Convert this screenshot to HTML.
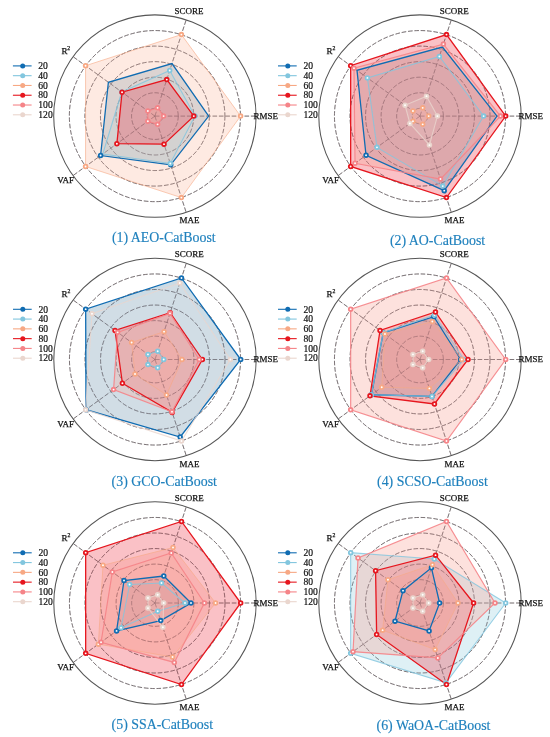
<!DOCTYPE html><html><head><meta charset="utf-8"><style>html,body{margin:0;padding:0;background:#fff;width:550px;height:737px;overflow:hidden;}svg{display:block;will-change:transform;}text{font-family:"Liberation Serif",serif;}</style></head><body>
<svg width="550" height="737" viewBox="0 0 550 737">
<g><circle cx="154.9" cy="116.1" r="7.8" fill="none" stroke="#858585" stroke-width="0.95" stroke-dasharray="4.6,1.8"/><circle cx="154.9" cy="116.1" r="23.35" fill="none" stroke="#858585" stroke-width="0.95" stroke-dasharray="4.6,1.8"/><circle cx="154.9" cy="116.1" r="38.9" fill="none" stroke="#858585" stroke-width="0.95" stroke-dasharray="4.6,1.8"/><circle cx="154.9" cy="116.1" r="54.45" fill="none" stroke="#858585" stroke-width="0.95" stroke-dasharray="4.6,1.8"/><circle cx="154.9" cy="116.1" r="70" fill="none" stroke="#858585" stroke-width="0.95" stroke-dasharray="4.6,1.8"/><circle cx="154.9" cy="116.1" r="85.55" fill="none" stroke="#858585" stroke-width="0.95" stroke-dasharray="4.6,1.8"/><line x1="154.9" y1="116.1" x2="256.1" y2="116.1" stroke="#858585" stroke-width="0.95" stroke-dasharray="4.6,1.8"/><line x1="154.9" y1="116.1" x2="186.17" y2="19.85" stroke="#858585" stroke-width="0.95" stroke-dasharray="4.6,1.8"/><line x1="154.9" y1="116.1" x2="73.03" y2="56.62" stroke="#858585" stroke-width="0.95" stroke-dasharray="4.6,1.8"/><line x1="154.9" y1="116.1" x2="73.03" y2="175.58" stroke="#858585" stroke-width="0.95" stroke-dasharray="4.6,1.8"/><line x1="154.9" y1="116.1" x2="186.17" y2="212.35" stroke="#858585" stroke-width="0.95" stroke-dasharray="4.6,1.8"/><circle cx="154.9" cy="116.1" r="101.2" fill="none" stroke="#555" stroke-width="1.05"/><polygon points="208.7,116.1 171.99,63.51 108.38,82.3 100.61,155.54 170.72,164.79" fill="#6d9bb8" fill-opacity="0.35"/><polygon points="194.9,116.1 169.73,70.45 121.73,92 102.72,154.01 170.29,163.46" fill="#a1d4e2" fill-opacity="0.35"/><polygon points="240.6,116.1 181.38,34.59 85.57,65.73 85.57,166.47 181.38,197.61" fill="#fcc3ac" fill-opacity="0.35"/><polygon points="193.8,116.1 166.77,79.58 122.05,92.24 116.88,143.73 164.02,144.16" fill="#f14e5c" fill-opacity="0.35"/><polygon points="163.6,116.1 157.59,107.83 147.86,110.99 147.86,121.21 157.59,124.37" fill="#f9a99e" fill-opacity="0.35"/><circle cx="154.9" cy="116.1" r="7.8" fill="none" stroke="#5a4048" stroke-opacity="0.3" stroke-width="0.95" stroke-dasharray="4.6,1.8"/><circle cx="154.9" cy="116.1" r="23.35" fill="none" stroke="#5a4048" stroke-opacity="0.3" stroke-width="0.95" stroke-dasharray="4.6,1.8"/><circle cx="154.9" cy="116.1" r="38.9" fill="none" stroke="#5a4048" stroke-opacity="0.3" stroke-width="0.95" stroke-dasharray="4.6,1.8"/><circle cx="154.9" cy="116.1" r="54.45" fill="none" stroke="#5a4048" stroke-opacity="0.3" stroke-width="0.95" stroke-dasharray="4.6,1.8"/><circle cx="154.9" cy="116.1" r="70" fill="none" stroke="#5a4048" stroke-opacity="0.3" stroke-width="0.95" stroke-dasharray="4.6,1.8"/><circle cx="154.9" cy="116.1" r="85.55" fill="none" stroke="#5a4048" stroke-opacity="0.3" stroke-width="0.95" stroke-dasharray="4.6,1.8"/><line x1="154.9" y1="116.1" x2="256.1" y2="116.1" stroke="#5a4048" stroke-opacity="0.3" stroke-width="0.95" stroke-dasharray="4.6,1.8"/><line x1="154.9" y1="116.1" x2="186.17" y2="19.85" stroke="#5a4048" stroke-opacity="0.3" stroke-width="0.95" stroke-dasharray="4.6,1.8"/><line x1="154.9" y1="116.1" x2="73.03" y2="56.62" stroke="#5a4048" stroke-opacity="0.3" stroke-width="0.95" stroke-dasharray="4.6,1.8"/><line x1="154.9" y1="116.1" x2="73.03" y2="175.58" stroke="#5a4048" stroke-opacity="0.3" stroke-width="0.95" stroke-dasharray="4.6,1.8"/><line x1="154.9" y1="116.1" x2="186.17" y2="212.35" stroke="#5a4048" stroke-opacity="0.3" stroke-width="0.95" stroke-dasharray="4.6,1.8"/><polygon points="208.7,116.1 171.99,63.51 108.38,82.3 100.61,155.54 170.72,164.79" fill="none" stroke="#106cb2" stroke-width="1.3" stroke-opacity="1" stroke-linejoin="miter"/><polygon points="194.9,116.1 169.73,70.45 121.73,92 102.72,154.01 170.29,163.46" fill="none" stroke="#82c6de" stroke-width="1.1" stroke-opacity="0.8" stroke-linejoin="miter"/><polygon points="240.6,116.1 181.38,34.59 85.57,65.73 85.57,166.47 181.38,197.61" fill="none" stroke="#f7a884" stroke-width="1.0" stroke-opacity="0.6" stroke-linejoin="miter"/><polygon points="193.8,116.1 166.77,79.58 122.05,92.24 116.88,143.73 164.02,144.16" fill="none" stroke="#e6161e" stroke-width="1.3" stroke-opacity="1" stroke-linejoin="miter"/><polygon points="163.6,116.1 157.59,107.83 147.86,110.99 147.86,121.21 157.59,124.37" fill="none" stroke="#f58488" stroke-width="1.2" stroke-opacity="0.9" stroke-linejoin="miter"/><circle cx="100.61" cy="155.54" r="1.85" fill="#fff" stroke="#106cb2" stroke-width="1.8"/><circle cx="170.72" cy="164.79" r="1.85" fill="#fff" stroke="#106cb2" stroke-width="1.8"/><circle cx="194.9" cy="116.1" r="1.85" fill="#fff" stroke="#82c6de" stroke-width="1.8"/><circle cx="169.73" cy="70.45" r="1.85" fill="#fff" stroke="#82c6de" stroke-width="1.8"/><circle cx="121.73" cy="92" r="1.85" fill="#fff" stroke="#82c6de" stroke-width="1.8"/><circle cx="170.29" cy="163.46" r="1.85" fill="#fff" stroke="#82c6de" stroke-width="1.8"/><circle cx="240.6" cy="116.1" r="1.85" fill="#fff" stroke="#f7a884" stroke-width="1.8"/><circle cx="181.38" cy="34.59" r="1.85" fill="#fff" stroke="#f7a884" stroke-width="1.8"/><circle cx="85.57" cy="65.73" r="1.85" fill="#fff" stroke="#f7a884" stroke-width="1.8"/><circle cx="85.57" cy="166.47" r="1.85" fill="#fff" stroke="#f7a884" stroke-width="1.8"/><circle cx="181.38" cy="197.61" r="1.85" fill="#fff" stroke="#f7a884" stroke-width="1.8"/><circle cx="193.8" cy="116.1" r="1.85" fill="#fff" stroke="#e6161e" stroke-width="1.8"/><circle cx="166.77" cy="79.58" r="1.85" fill="#fff" stroke="#e6161e" stroke-width="1.8"/><circle cx="122.05" cy="92.24" r="1.85" fill="#fff" stroke="#e6161e" stroke-width="1.8"/><circle cx="116.88" cy="143.73" r="1.85" fill="#fff" stroke="#e6161e" stroke-width="1.8"/><circle cx="164.02" cy="144.16" r="1.85" fill="#fff" stroke="#e6161e" stroke-width="1.8"/><circle cx="163.6" cy="116.1" r="1.85" fill="#fff" stroke="#f58488" stroke-width="1.8"/><circle cx="157.59" cy="107.83" r="1.85" fill="#fff" stroke="#f58488" stroke-width="1.8"/><circle cx="147.86" cy="110.99" r="1.85" fill="#fff" stroke="#f58488" stroke-width="1.8"/><circle cx="147.86" cy="121.21" r="1.85" fill="#fff" stroke="#f58488" stroke-width="1.8"/><circle cx="157.59" cy="124.37" r="1.85" fill="#fff" stroke="#f58488" stroke-width="1.8"/><text x="189.1" y="13.7" font-size="9.0" fill="#111" stroke="#111" stroke-width="0.25" text-anchor="middle">SCORE</text><text x="253.5" y="118.6" font-size="9.0" fill="#111" stroke="#111" stroke-width="0.25" text-anchor="start">RMSE</text><text x="189.5" y="223.1" font-size="9.0" fill="#111" stroke="#111" stroke-width="0.25" text-anchor="middle">MAE</text><text x="65.6" y="183.3" font-size="9.0" fill="#111" stroke="#111" stroke-width="0.25" text-anchor="middle">VAF</text><text x="61.4" y="53.6" font-size="9" fill="#111" stroke="#111" stroke-width="0.25">R<tspan font-size="5.8" dy="-3.6" dx="-0.1">2</tspan></text><line x1="12.9" y1="65.9" x2="31.6" y2="65.9" stroke="#106cb2" stroke-width="1.1"/><circle cx="22.7" cy="65.9" r="2.5" fill="#106cb2"/><text x="38.3" y="69.1" font-size="9.6" fill="#111" stroke="#111" stroke-width="0.2">20</text><line x1="12.9" y1="75.68" x2="31.6" y2="75.68" stroke="#82c6de" stroke-width="1.1"/><circle cx="22.7" cy="75.68" r="2.5" fill="#82c6de"/><text x="38.3" y="78.88" font-size="9.6" fill="#111" stroke="#111" stroke-width="0.2">40</text><line x1="12.9" y1="85.46" x2="31.6" y2="85.46" stroke="#f7a884" stroke-width="1.1"/><circle cx="22.7" cy="85.46" r="2.5" fill="#f7a884"/><text x="38.3" y="88.66" font-size="9.6" fill="#111" stroke="#111" stroke-width="0.2">60</text><line x1="12.9" y1="95.24" x2="31.6" y2="95.24" stroke="#e6161e" stroke-width="1.1"/><circle cx="22.7" cy="95.24" r="2.5" fill="#e6161e"/><text x="38.3" y="98.44" font-size="9.6" fill="#111" stroke="#111" stroke-width="0.2">80</text><line x1="12.9" y1="105.02" x2="31.6" y2="105.02" stroke="#f58488" stroke-width="1.1"/><circle cx="22.7" cy="105.02" r="2.5" fill="#f58488"/><text x="38.3" y="108.22" font-size="9.6" fill="#111" stroke="#111" stroke-width="0.2">100</text><line x1="12.9" y1="114.8" x2="31.6" y2="114.8" stroke="#ead6ce" stroke-width="1.1"/><circle cx="22.7" cy="114.8" r="2.5" fill="#ead6ce"/><text x="38.3" y="118" font-size="9.6" fill="#111" stroke="#111" stroke-width="0.2">120</text><text x="111.9" y="242.1" font-size="13.9" fill="#1f80bd" stroke="#1f80bd" stroke-width="0.15">(1) AEO-CatBoost</text></g>
<g><circle cx="420" cy="116.1" r="7.8" fill="none" stroke="#858585" stroke-width="0.95" stroke-dasharray="4.6,1.8"/><circle cx="420" cy="116.1" r="23.35" fill="none" stroke="#858585" stroke-width="0.95" stroke-dasharray="4.6,1.8"/><circle cx="420" cy="116.1" r="38.9" fill="none" stroke="#858585" stroke-width="0.95" stroke-dasharray="4.6,1.8"/><circle cx="420" cy="116.1" r="54.45" fill="none" stroke="#858585" stroke-width="0.95" stroke-dasharray="4.6,1.8"/><circle cx="420" cy="116.1" r="70" fill="none" stroke="#858585" stroke-width="0.95" stroke-dasharray="4.6,1.8"/><circle cx="420" cy="116.1" r="85.55" fill="none" stroke="#858585" stroke-width="0.95" stroke-dasharray="4.6,1.8"/><line x1="420" y1="116.1" x2="521.2" y2="116.1" stroke="#858585" stroke-width="0.95" stroke-dasharray="4.6,1.8"/><line x1="420" y1="116.1" x2="451.27" y2="19.85" stroke="#858585" stroke-width="0.95" stroke-dasharray="4.6,1.8"/><line x1="420" y1="116.1" x2="338.13" y2="56.62" stroke="#858585" stroke-width="0.95" stroke-dasharray="4.6,1.8"/><line x1="420" y1="116.1" x2="338.13" y2="175.58" stroke="#858585" stroke-width="0.95" stroke-dasharray="4.6,1.8"/><line x1="420" y1="116.1" x2="451.27" y2="212.35" stroke="#858585" stroke-width="0.95" stroke-dasharray="4.6,1.8"/><circle cx="420" cy="116.1" r="101.2" fill="none" stroke="#555" stroke-width="1.05"/><polygon points="497,116.1 442.43,47.05 356.98,70.31 366.04,155.31 444.23,190.66" fill="#6d9bb8" fill-opacity="0.35"/><polygon points="483.6,116.1 439.38,56.47 367.41,77.89 376.96,147.37 442.74,186.1" fill="#a1d4e2" fill-opacity="0.35"/><polygon points="428.7,116.1 422.69,107.83 412.96,110.99 412.96,121.21 422.69,124.37" fill="#fcc3ac" fill-opacity="0.35"/><polygon points="505.7,116.1 446.48,34.59 350.67,65.73 350.67,166.47 446.48,197.61" fill="#f14e5c" fill-opacity="0.35"/><polygon points="500.5,116.1 443.39,44.11 353.98,68.14 355.04,163.3 440.46,179.06" fill="#f9a99e" fill-opacity="0.35"/><polygon points="437.4,116.1 426.49,96.13 405.03,105.23 409.89,123.45 429.43,145.11" fill="#f7e6de" fill-opacity="0.12"/><circle cx="420" cy="116.1" r="7.8" fill="none" stroke="#5a4048" stroke-opacity="0.3" stroke-width="0.95" stroke-dasharray="4.6,1.8"/><circle cx="420" cy="116.1" r="23.35" fill="none" stroke="#5a4048" stroke-opacity="0.3" stroke-width="0.95" stroke-dasharray="4.6,1.8"/><circle cx="420" cy="116.1" r="38.9" fill="none" stroke="#5a4048" stroke-opacity="0.3" stroke-width="0.95" stroke-dasharray="4.6,1.8"/><circle cx="420" cy="116.1" r="54.45" fill="none" stroke="#5a4048" stroke-opacity="0.3" stroke-width="0.95" stroke-dasharray="4.6,1.8"/><circle cx="420" cy="116.1" r="70" fill="none" stroke="#5a4048" stroke-opacity="0.3" stroke-width="0.95" stroke-dasharray="4.6,1.8"/><circle cx="420" cy="116.1" r="85.55" fill="none" stroke="#5a4048" stroke-opacity="0.3" stroke-width="0.95" stroke-dasharray="4.6,1.8"/><line x1="420" y1="116.1" x2="521.2" y2="116.1" stroke="#5a4048" stroke-opacity="0.3" stroke-width="0.95" stroke-dasharray="4.6,1.8"/><line x1="420" y1="116.1" x2="451.27" y2="19.85" stroke="#5a4048" stroke-opacity="0.3" stroke-width="0.95" stroke-dasharray="4.6,1.8"/><line x1="420" y1="116.1" x2="338.13" y2="56.62" stroke="#5a4048" stroke-opacity="0.3" stroke-width="0.95" stroke-dasharray="4.6,1.8"/><line x1="420" y1="116.1" x2="338.13" y2="175.58" stroke="#5a4048" stroke-opacity="0.3" stroke-width="0.95" stroke-dasharray="4.6,1.8"/><line x1="420" y1="116.1" x2="451.27" y2="212.35" stroke="#5a4048" stroke-opacity="0.3" stroke-width="0.95" stroke-dasharray="4.6,1.8"/><polygon points="497,116.1 442.43,47.05 356.98,70.31 366.04,155.31 444.23,190.66" fill="none" stroke="#106cb2" stroke-width="1.3" stroke-opacity="1" stroke-linejoin="miter"/><polygon points="483.6,116.1 439.38,56.47 367.41,77.89 376.96,147.37 442.74,186.1" fill="none" stroke="#82c6de" stroke-width="1.1" stroke-opacity="0.8" stroke-linejoin="miter"/><polygon points="428.7,116.1 422.69,107.83 412.96,110.99 412.96,121.21 422.69,124.37" fill="none" stroke="#f7a884" stroke-width="1.0" stroke-opacity="0.6" stroke-linejoin="miter"/><polygon points="505.7,116.1 446.48,34.59 350.67,65.73 350.67,166.47 446.48,197.61" fill="none" stroke="#e6161e" stroke-width="1.3" stroke-opacity="1" stroke-linejoin="miter"/><polygon points="500.5,116.1 443.39,44.11 353.98,68.14 355.04,163.3 440.46,179.06" fill="none" stroke="#f58488" stroke-width="1.2" stroke-opacity="0.9" stroke-linejoin="miter"/><polygon points="437.4,116.1 426.49,96.13 405.03,105.23 409.89,123.45 429.43,145.11" fill="none" stroke="#ead6ce" stroke-width="1.1" stroke-opacity="0.8" stroke-linejoin="miter"/><circle cx="366.04" cy="155.31" r="1.85" fill="#fff" stroke="#106cb2" stroke-width="1.8"/><circle cx="444.23" cy="190.66" r="1.85" fill="#fff" stroke="#106cb2" stroke-width="1.8"/><circle cx="483.6" cy="116.1" r="1.85" fill="#fff" stroke="#82c6de" stroke-width="1.8"/><circle cx="439.38" cy="56.47" r="1.85" fill="#fff" stroke="#82c6de" stroke-width="1.8"/><circle cx="367.41" cy="77.89" r="1.85" fill="#fff" stroke="#82c6de" stroke-width="1.8"/><circle cx="376.96" cy="147.37" r="1.85" fill="#fff" stroke="#82c6de" stroke-width="1.8"/><circle cx="442.74" cy="186.1" r="1.85" fill="#fff" stroke="#82c6de" stroke-width="1.8"/><circle cx="428.7" cy="116.1" r="1.85" fill="#fff" stroke="#f7a884" stroke-width="1.8"/><circle cx="422.69" cy="107.83" r="1.85" fill="#fff" stroke="#f7a884" stroke-width="1.8"/><circle cx="412.96" cy="110.99" r="1.85" fill="#fff" stroke="#f7a884" stroke-width="1.8"/><circle cx="412.96" cy="121.21" r="1.85" fill="#fff" stroke="#f7a884" stroke-width="1.8"/><circle cx="422.69" cy="124.37" r="1.85" fill="#fff" stroke="#f7a884" stroke-width="1.8"/><circle cx="505.7" cy="116.1" r="1.85" fill="#fff" stroke="#e6161e" stroke-width="1.8"/><circle cx="446.48" cy="34.59" r="1.85" fill="#fff" stroke="#e6161e" stroke-width="1.8"/><circle cx="350.67" cy="65.73" r="1.85" fill="#fff" stroke="#e6161e" stroke-width="1.8"/><circle cx="350.67" cy="166.47" r="1.85" fill="#fff" stroke="#e6161e" stroke-width="1.8"/><circle cx="446.48" cy="197.61" r="1.85" fill="#fff" stroke="#e6161e" stroke-width="1.8"/><circle cx="500.5" cy="116.1" r="1.85" fill="#fff" stroke="#f58488" stroke-width="1.8"/><circle cx="443.39" cy="44.11" r="1.85" fill="#fff" stroke="#f58488" stroke-width="1.8"/><circle cx="353.98" cy="68.14" r="1.85" fill="#fff" stroke="#f58488" stroke-width="1.8"/><circle cx="355.04" cy="163.3" r="1.85" fill="#fff" stroke="#f58488" stroke-width="1.8"/><circle cx="440.46" cy="179.06" r="1.85" fill="#fff" stroke="#f58488" stroke-width="1.8"/><circle cx="437.4" cy="116.1" r="1.85" fill="#fff" stroke="#ead6ce" stroke-width="1.8"/><circle cx="426.49" cy="96.13" r="1.85" fill="#fff" stroke="#ead6ce" stroke-width="1.8"/><circle cx="405.03" cy="105.23" r="1.85" fill="#fff" stroke="#ead6ce" stroke-width="1.8"/><circle cx="409.89" cy="123.45" r="1.85" fill="#fff" stroke="#ead6ce" stroke-width="1.8"/><circle cx="429.43" cy="145.11" r="1.85" fill="#fff" stroke="#ead6ce" stroke-width="1.8"/><text x="454.2" y="13.7" font-size="9.0" fill="#111" stroke="#111" stroke-width="0.25" text-anchor="middle">SCORE</text><text x="518.6" y="118.6" font-size="9.0" fill="#111" stroke="#111" stroke-width="0.25" text-anchor="start">RMSE</text><text x="454.6" y="223.1" font-size="9.0" fill="#111" stroke="#111" stroke-width="0.25" text-anchor="middle">MAE</text><text x="330.7" y="183.3" font-size="9.0" fill="#111" stroke="#111" stroke-width="0.25" text-anchor="middle">VAF</text><text x="326.5" y="53.6" font-size="9" fill="#111" stroke="#111" stroke-width="0.25">R<tspan font-size="5.8" dy="-3.6" dx="-0.1">2</tspan></text><line x1="278" y1="65.9" x2="296.7" y2="65.9" stroke="#106cb2" stroke-width="1.1"/><circle cx="287.8" cy="65.9" r="2.5" fill="#106cb2"/><text x="303.4" y="69.1" font-size="9.6" fill="#111" stroke="#111" stroke-width="0.2">20</text><line x1="278" y1="75.68" x2="296.7" y2="75.68" stroke="#82c6de" stroke-width="1.1"/><circle cx="287.8" cy="75.68" r="2.5" fill="#82c6de"/><text x="303.4" y="78.88" font-size="9.6" fill="#111" stroke="#111" stroke-width="0.2">40</text><line x1="278" y1="85.46" x2="296.7" y2="85.46" stroke="#f7a884" stroke-width="1.1"/><circle cx="287.8" cy="85.46" r="2.5" fill="#f7a884"/><text x="303.4" y="88.66" font-size="9.6" fill="#111" stroke="#111" stroke-width="0.2">60</text><line x1="278" y1="95.24" x2="296.7" y2="95.24" stroke="#e6161e" stroke-width="1.1"/><circle cx="287.8" cy="95.24" r="2.5" fill="#e6161e"/><text x="303.4" y="98.44" font-size="9.6" fill="#111" stroke="#111" stroke-width="0.2">80</text><line x1="278" y1="105.02" x2="296.7" y2="105.02" stroke="#f58488" stroke-width="1.1"/><circle cx="287.8" cy="105.02" r="2.5" fill="#f58488"/><text x="303.4" y="108.22" font-size="9.6" fill="#111" stroke="#111" stroke-width="0.2">100</text><line x1="278" y1="114.8" x2="296.7" y2="114.8" stroke="#ead6ce" stroke-width="1.1"/><circle cx="287.8" cy="114.8" r="2.5" fill="#ead6ce"/><text x="303.4" y="118" font-size="9.6" fill="#111" stroke="#111" stroke-width="0.2">120</text><text x="389.9" y="245.4" font-size="13.9" fill="#1f80bd" stroke="#1f80bd" stroke-width="0.15">(2) AO-CatBoost</text></g>
<g><circle cx="155" cy="359.5" r="7.8" fill="none" stroke="#858585" stroke-width="0.95" stroke-dasharray="4.6,1.8"/><circle cx="155" cy="359.5" r="23.35" fill="none" stroke="#858585" stroke-width="0.95" stroke-dasharray="4.6,1.8"/><circle cx="155" cy="359.5" r="38.9" fill="none" stroke="#858585" stroke-width="0.95" stroke-dasharray="4.6,1.8"/><circle cx="155" cy="359.5" r="54.45" fill="none" stroke="#858585" stroke-width="0.95" stroke-dasharray="4.6,1.8"/><circle cx="155" cy="359.5" r="70" fill="none" stroke="#858585" stroke-width="0.95" stroke-dasharray="4.6,1.8"/><circle cx="155" cy="359.5" r="85.55" fill="none" stroke="#858585" stroke-width="0.95" stroke-dasharray="4.6,1.8"/><line x1="155" y1="359.5" x2="256.2" y2="359.5" stroke="#858585" stroke-width="0.95" stroke-dasharray="4.6,1.8"/><line x1="155" y1="359.5" x2="186.27" y2="263.25" stroke="#858585" stroke-width="0.95" stroke-dasharray="4.6,1.8"/><line x1="155" y1="359.5" x2="73.13" y2="300.02" stroke="#858585" stroke-width="0.95" stroke-dasharray="4.6,1.8"/><line x1="155" y1="359.5" x2="73.13" y2="418.98" stroke="#858585" stroke-width="0.95" stroke-dasharray="4.6,1.8"/><line x1="155" y1="359.5" x2="186.27" y2="455.75" stroke="#858585" stroke-width="0.95" stroke-dasharray="4.6,1.8"/><circle cx="155" cy="359.5" r="101.2" fill="none" stroke="#555" stroke-width="1.05"/><polygon points="240.7,359.5 181.48,277.99 85.67,309.13 85.99,409.64 180.18,437.01" fill="#6d9bb8" fill-opacity="0.35"/><polygon points="163.7,359.5 157.69,351.23 147.96,354.39 147.96,364.61 157.69,367.77" fill="#a1d4e2" fill-opacity="0.35"/><polygon points="182,359.5 164.05,331.63 131.62,342.51 135.02,374.02 166.53,394.97" fill="#fcc3ac" fill-opacity="0.35"/><polygon points="202.4,359.5 170.2,312.71 115.03,330.46 122.4,383.19 172.18,412.38" fill="#f14e5c" fill-opacity="0.35"/><polygon points="199.2,359.5 169.99,313.37 117.62,332.34 113.58,389.59 172,411.81" fill="#f9a99e" fill-opacity="0.35"/><polygon points="230.4,359.5 179.84,283.04 91.98,313.71 85.67,409.87 181.48,441.01" fill="#f7e6de" fill-opacity="0.12"/><circle cx="155" cy="359.5" r="7.8" fill="none" stroke="#5a4048" stroke-opacity="0.3" stroke-width="0.95" stroke-dasharray="4.6,1.8"/><circle cx="155" cy="359.5" r="23.35" fill="none" stroke="#5a4048" stroke-opacity="0.3" stroke-width="0.95" stroke-dasharray="4.6,1.8"/><circle cx="155" cy="359.5" r="38.9" fill="none" stroke="#5a4048" stroke-opacity="0.3" stroke-width="0.95" stroke-dasharray="4.6,1.8"/><circle cx="155" cy="359.5" r="54.45" fill="none" stroke="#5a4048" stroke-opacity="0.3" stroke-width="0.95" stroke-dasharray="4.6,1.8"/><circle cx="155" cy="359.5" r="70" fill="none" stroke="#5a4048" stroke-opacity="0.3" stroke-width="0.95" stroke-dasharray="4.6,1.8"/><circle cx="155" cy="359.5" r="85.55" fill="none" stroke="#5a4048" stroke-opacity="0.3" stroke-width="0.95" stroke-dasharray="4.6,1.8"/><line x1="155" y1="359.5" x2="256.2" y2="359.5" stroke="#5a4048" stroke-opacity="0.3" stroke-width="0.95" stroke-dasharray="4.6,1.8"/><line x1="155" y1="359.5" x2="186.27" y2="263.25" stroke="#5a4048" stroke-opacity="0.3" stroke-width="0.95" stroke-dasharray="4.6,1.8"/><line x1="155" y1="359.5" x2="73.13" y2="300.02" stroke="#5a4048" stroke-opacity="0.3" stroke-width="0.95" stroke-dasharray="4.6,1.8"/><line x1="155" y1="359.5" x2="73.13" y2="418.98" stroke="#5a4048" stroke-opacity="0.3" stroke-width="0.95" stroke-dasharray="4.6,1.8"/><line x1="155" y1="359.5" x2="186.27" y2="455.75" stroke="#5a4048" stroke-opacity="0.3" stroke-width="0.95" stroke-dasharray="4.6,1.8"/><polygon points="240.7,359.5 181.48,277.99 85.67,309.13 85.99,409.64 180.18,437.01" fill="none" stroke="#106cb2" stroke-width="1.3" stroke-opacity="1" stroke-linejoin="miter"/><polygon points="163.7,359.5 157.69,351.23 147.96,354.39 147.96,364.61 157.69,367.77" fill="none" stroke="#82c6de" stroke-width="1.1" stroke-opacity="0.8" stroke-linejoin="miter"/><polygon points="182,359.5 164.05,331.63 131.62,342.51 135.02,374.02 166.53,394.97" fill="none" stroke="#f7a884" stroke-width="1.0" stroke-opacity="0.6" stroke-linejoin="miter"/><polygon points="202.4,359.5 170.2,312.71 115.03,330.46 122.4,383.19 172.18,412.38" fill="none" stroke="#e6161e" stroke-width="1.3" stroke-opacity="1" stroke-linejoin="miter"/><polygon points="199.2,359.5 169.99,313.37 117.62,332.34 113.58,389.59 172,411.81" fill="none" stroke="#f58488" stroke-width="1.2" stroke-opacity="0.9" stroke-linejoin="miter"/><polygon points="230.4,359.5 179.84,283.04 91.98,313.71 85.67,409.87 181.48,441.01" fill="none" stroke="#ead6ce" stroke-width="1.1" stroke-opacity="0.8" stroke-linejoin="miter"/><circle cx="240.7" cy="359.5" r="1.85" fill="#fff" stroke="#106cb2" stroke-width="1.8"/><circle cx="181.48" cy="277.99" r="1.85" fill="#fff" stroke="#106cb2" stroke-width="1.8"/><circle cx="85.67" cy="309.13" r="1.85" fill="#fff" stroke="#106cb2" stroke-width="1.8"/><circle cx="85.99" cy="409.64" r="1.85" fill="#fff" stroke="#106cb2" stroke-width="1.8"/><circle cx="180.18" cy="437.01" r="1.85" fill="#fff" stroke="#106cb2" stroke-width="1.8"/><circle cx="163.7" cy="359.5" r="1.85" fill="#fff" stroke="#82c6de" stroke-width="1.8"/><circle cx="157.69" cy="351.23" r="1.85" fill="#fff" stroke="#82c6de" stroke-width="1.8"/><circle cx="147.96" cy="354.39" r="1.85" fill="#fff" stroke="#82c6de" stroke-width="1.8"/><circle cx="147.96" cy="364.61" r="1.85" fill="#fff" stroke="#82c6de" stroke-width="1.8"/><circle cx="157.69" cy="367.77" r="1.85" fill="#fff" stroke="#82c6de" stroke-width="1.8"/><circle cx="182" cy="359.5" r="1.85" fill="#fff" stroke="#f7a884" stroke-width="1.8"/><circle cx="164.05" cy="331.63" r="1.85" fill="#fff" stroke="#f7a884" stroke-width="1.8"/><circle cx="131.62" cy="342.51" r="1.85" fill="#fff" stroke="#f7a884" stroke-width="1.8"/><circle cx="135.02" cy="374.02" r="1.85" fill="#fff" stroke="#f7a884" stroke-width="1.8"/><circle cx="166.53" cy="394.97" r="1.85" fill="#fff" stroke="#f7a884" stroke-width="1.8"/><circle cx="202.4" cy="359.5" r="1.85" fill="#fff" stroke="#e6161e" stroke-width="1.8"/><circle cx="170.2" cy="312.71" r="1.85" fill="#fff" stroke="#e6161e" stroke-width="1.8"/><circle cx="115.03" cy="330.46" r="1.85" fill="#fff" stroke="#e6161e" stroke-width="1.8"/><circle cx="122.4" cy="383.19" r="1.85" fill="#fff" stroke="#e6161e" stroke-width="1.8"/><circle cx="172.18" cy="412.38" r="1.85" fill="#fff" stroke="#e6161e" stroke-width="1.8"/><circle cx="199.2" cy="359.5" r="1.85" fill="#fff" stroke="#f58488" stroke-width="1.8"/><circle cx="169.99" cy="313.37" r="1.85" fill="#fff" stroke="#f58488" stroke-width="1.8"/><circle cx="117.62" cy="332.34" r="1.85" fill="#fff" stroke="#f58488" stroke-width="1.8"/><circle cx="113.58" cy="389.59" r="1.85" fill="#fff" stroke="#f58488" stroke-width="1.8"/><circle cx="172" cy="411.81" r="1.85" fill="#fff" stroke="#f58488" stroke-width="1.8"/><circle cx="230.4" cy="359.5" r="1.85" fill="#fff" stroke="#ead6ce" stroke-width="1.8"/><circle cx="179.84" cy="283.04" r="1.85" fill="#fff" stroke="#ead6ce" stroke-width="1.8"/><circle cx="91.98" cy="313.71" r="1.85" fill="#fff" stroke="#ead6ce" stroke-width="1.8"/><circle cx="85.67" cy="409.87" r="1.85" fill="#fff" stroke="#ead6ce" stroke-width="1.8"/><circle cx="181.48" cy="441.01" r="1.85" fill="#fff" stroke="#ead6ce" stroke-width="1.8"/><text x="189.2" y="257.1" font-size="9.0" fill="#111" stroke="#111" stroke-width="0.25" text-anchor="middle">SCORE</text><text x="253.6" y="362" font-size="9.0" fill="#111" stroke="#111" stroke-width="0.25" text-anchor="start">RMSE</text><text x="189.6" y="466.5" font-size="9.0" fill="#111" stroke="#111" stroke-width="0.25" text-anchor="middle">MAE</text><text x="65.7" y="426.7" font-size="9.0" fill="#111" stroke="#111" stroke-width="0.25" text-anchor="middle">VAF</text><text x="61.5" y="297" font-size="9" fill="#111" stroke="#111" stroke-width="0.25">R<tspan font-size="5.8" dy="-3.6" dx="-0.1">2</tspan></text><line x1="13" y1="309.3" x2="31.7" y2="309.3" stroke="#106cb2" stroke-width="1.1"/><circle cx="22.8" cy="309.3" r="2.5" fill="#106cb2"/><text x="38.4" y="312.5" font-size="9.6" fill="#111" stroke="#111" stroke-width="0.2">20</text><line x1="13" y1="319.08" x2="31.7" y2="319.08" stroke="#82c6de" stroke-width="1.1"/><circle cx="22.8" cy="319.08" r="2.5" fill="#82c6de"/><text x="38.4" y="322.28" font-size="9.6" fill="#111" stroke="#111" stroke-width="0.2">40</text><line x1="13" y1="328.86" x2="31.7" y2="328.86" stroke="#f7a884" stroke-width="1.1"/><circle cx="22.8" cy="328.86" r="2.5" fill="#f7a884"/><text x="38.4" y="332.06" font-size="9.6" fill="#111" stroke="#111" stroke-width="0.2">60</text><line x1="13" y1="338.64" x2="31.7" y2="338.64" stroke="#e6161e" stroke-width="1.1"/><circle cx="22.8" cy="338.64" r="2.5" fill="#e6161e"/><text x="38.4" y="341.84" font-size="9.6" fill="#111" stroke="#111" stroke-width="0.2">80</text><line x1="13" y1="348.42" x2="31.7" y2="348.42" stroke="#f58488" stroke-width="1.1"/><circle cx="22.8" cy="348.42" r="2.5" fill="#f58488"/><text x="38.4" y="351.62" font-size="9.6" fill="#111" stroke="#111" stroke-width="0.2">100</text><line x1="13" y1="358.2" x2="31.7" y2="358.2" stroke="#ead6ce" stroke-width="1.1"/><circle cx="22.8" cy="358.2" r="2.5" fill="#ead6ce"/><text x="38.4" y="361.4" font-size="9.6" fill="#111" stroke="#111" stroke-width="0.2">120</text><text x="111.6" y="485.5" font-size="13.9" fill="#1f80bd" stroke="#1f80bd" stroke-width="0.15">(3) GCO-CatBoost</text></g>
<g><circle cx="420" cy="359.5" r="7.8" fill="none" stroke="#858585" stroke-width="0.95" stroke-dasharray="4.6,1.8"/><circle cx="420" cy="359.5" r="23.35" fill="none" stroke="#858585" stroke-width="0.95" stroke-dasharray="4.6,1.8"/><circle cx="420" cy="359.5" r="38.9" fill="none" stroke="#858585" stroke-width="0.95" stroke-dasharray="4.6,1.8"/><circle cx="420" cy="359.5" r="54.45" fill="none" stroke="#858585" stroke-width="0.95" stroke-dasharray="4.6,1.8"/><circle cx="420" cy="359.5" r="70" fill="none" stroke="#858585" stroke-width="0.95" stroke-dasharray="4.6,1.8"/><circle cx="420" cy="359.5" r="85.55" fill="none" stroke="#858585" stroke-width="0.95" stroke-dasharray="4.6,1.8"/><line x1="420" y1="359.5" x2="521.2" y2="359.5" stroke="#858585" stroke-width="0.95" stroke-dasharray="4.6,1.8"/><line x1="420" y1="359.5" x2="451.27" y2="263.25" stroke="#858585" stroke-width="0.95" stroke-dasharray="4.6,1.8"/><line x1="420" y1="359.5" x2="338.13" y2="300.02" stroke="#858585" stroke-width="0.95" stroke-dasharray="4.6,1.8"/><line x1="420" y1="359.5" x2="338.13" y2="418.98" stroke="#858585" stroke-width="0.95" stroke-dasharray="4.6,1.8"/><line x1="420" y1="359.5" x2="451.27" y2="455.75" stroke="#858585" stroke-width="0.95" stroke-dasharray="4.6,1.8"/><circle cx="420" cy="359.5" r="101.2" fill="none" stroke="#555" stroke-width="1.05"/><polygon points="460.7,359.5 433.91,316.7 383.19,332.76 371.46,394.77 431.99,396.4" fill="#6d9bb8" fill-opacity="0.35"/><polygon points="464,359.5 434.46,314.99 383.19,332.76 371.46,394.77 431.99,396.4" fill="#a1d4e2" fill-opacity="0.35"/><polygon points="461.8,359.5 432.33,321.55 384.97,334.05 381.73,387.3 429.39,388.41" fill="#fcc3ac" fill-opacity="0.35"/><polygon points="468,359.5 435.45,311.95 380.03,330.46 370,395.83 434.46,404.01" fill="#f14e5c" fill-opacity="0.35"/><polygon points="505.7,359.5 446.48,277.99 350.67,309.13 350.67,409.87 446.48,441.01" fill="#f9a99e" fill-opacity="0.35"/><polygon points="428.7,359.5 422.69,351.23 412.96,354.39 412.96,364.61 422.69,367.77" fill="#f7e6de" fill-opacity="0.12"/><circle cx="420" cy="359.5" r="7.8" fill="none" stroke="#5a4048" stroke-opacity="0.3" stroke-width="0.95" stroke-dasharray="4.6,1.8"/><circle cx="420" cy="359.5" r="23.35" fill="none" stroke="#5a4048" stroke-opacity="0.3" stroke-width="0.95" stroke-dasharray="4.6,1.8"/><circle cx="420" cy="359.5" r="38.9" fill="none" stroke="#5a4048" stroke-opacity="0.3" stroke-width="0.95" stroke-dasharray="4.6,1.8"/><circle cx="420" cy="359.5" r="54.45" fill="none" stroke="#5a4048" stroke-opacity="0.3" stroke-width="0.95" stroke-dasharray="4.6,1.8"/><circle cx="420" cy="359.5" r="70" fill="none" stroke="#5a4048" stroke-opacity="0.3" stroke-width="0.95" stroke-dasharray="4.6,1.8"/><circle cx="420" cy="359.5" r="85.55" fill="none" stroke="#5a4048" stroke-opacity="0.3" stroke-width="0.95" stroke-dasharray="4.6,1.8"/><line x1="420" y1="359.5" x2="521.2" y2="359.5" stroke="#5a4048" stroke-opacity="0.3" stroke-width="0.95" stroke-dasharray="4.6,1.8"/><line x1="420" y1="359.5" x2="451.27" y2="263.25" stroke="#5a4048" stroke-opacity="0.3" stroke-width="0.95" stroke-dasharray="4.6,1.8"/><line x1="420" y1="359.5" x2="338.13" y2="300.02" stroke="#5a4048" stroke-opacity="0.3" stroke-width="0.95" stroke-dasharray="4.6,1.8"/><line x1="420" y1="359.5" x2="338.13" y2="418.98" stroke="#5a4048" stroke-opacity="0.3" stroke-width="0.95" stroke-dasharray="4.6,1.8"/><line x1="420" y1="359.5" x2="451.27" y2="455.75" stroke="#5a4048" stroke-opacity="0.3" stroke-width="0.95" stroke-dasharray="4.6,1.8"/><polygon points="460.7,359.5 433.91,316.7 383.19,332.76 371.46,394.77 431.99,396.4" fill="none" stroke="#106cb2" stroke-width="1.3" stroke-opacity="1" stroke-linejoin="miter"/><polygon points="464,359.5 434.46,314.99 383.19,332.76 371.46,394.77 431.99,396.4" fill="none" stroke="#82c6de" stroke-width="1.1" stroke-opacity="0.8" stroke-linejoin="miter"/><polygon points="461.8,359.5 432.33,321.55 384.97,334.05 381.73,387.3 429.39,388.41" fill="none" stroke="#f7a884" stroke-width="1.0" stroke-opacity="0.6" stroke-linejoin="miter"/><polygon points="468,359.5 435.45,311.95 380.03,330.46 370,395.83 434.46,404.01" fill="none" stroke="#e6161e" stroke-width="1.3" stroke-opacity="1" stroke-linejoin="miter"/><polygon points="505.7,359.5 446.48,277.99 350.67,309.13 350.67,409.87 446.48,441.01" fill="none" stroke="#f58488" stroke-width="1.2" stroke-opacity="0.9" stroke-linejoin="miter"/><polygon points="428.7,359.5 422.69,351.23 412.96,354.39 412.96,364.61 422.69,367.77" fill="none" stroke="#ead6ce" stroke-width="1.1" stroke-opacity="0.8" stroke-linejoin="miter"/><circle cx="460.7" cy="359.5" r="1.85" fill="#fff" stroke="#106cb2" stroke-width="1.8"/><circle cx="433.91" cy="316.7" r="1.85" fill="#fff" stroke="#106cb2" stroke-width="1.8"/><circle cx="383.19" cy="332.76" r="1.85" fill="#fff" stroke="#106cb2" stroke-width="1.8"/><circle cx="371.46" cy="394.77" r="1.85" fill="#fff" stroke="#106cb2" stroke-width="1.8"/><circle cx="431.99" cy="396.4" r="1.85" fill="#fff" stroke="#106cb2" stroke-width="1.8"/><circle cx="464" cy="359.5" r="1.85" fill="#fff" stroke="#82c6de" stroke-width="1.8"/><circle cx="434.46" cy="314.99" r="1.85" fill="#fff" stroke="#82c6de" stroke-width="1.8"/><circle cx="383.19" cy="332.76" r="1.85" fill="#fff" stroke="#82c6de" stroke-width="1.8"/><circle cx="371.46" cy="394.77" r="1.85" fill="#fff" stroke="#82c6de" stroke-width="1.8"/><circle cx="431.99" cy="396.4" r="1.85" fill="#fff" stroke="#82c6de" stroke-width="1.8"/><circle cx="461.8" cy="359.5" r="1.85" fill="#fff" stroke="#f7a884" stroke-width="1.8"/><circle cx="432.33" cy="321.55" r="1.85" fill="#fff" stroke="#f7a884" stroke-width="1.8"/><circle cx="384.97" cy="334.05" r="1.85" fill="#fff" stroke="#f7a884" stroke-width="1.8"/><circle cx="381.73" cy="387.3" r="1.85" fill="#fff" stroke="#f7a884" stroke-width="1.8"/><circle cx="429.39" cy="388.41" r="1.85" fill="#fff" stroke="#f7a884" stroke-width="1.8"/><circle cx="468" cy="359.5" r="1.85" fill="#fff" stroke="#e6161e" stroke-width="1.8"/><circle cx="435.45" cy="311.95" r="1.85" fill="#fff" stroke="#e6161e" stroke-width="1.8"/><circle cx="380.03" cy="330.46" r="1.85" fill="#fff" stroke="#e6161e" stroke-width="1.8"/><circle cx="370" cy="395.83" r="1.85" fill="#fff" stroke="#e6161e" stroke-width="1.8"/><circle cx="434.46" cy="404.01" r="1.85" fill="#fff" stroke="#e6161e" stroke-width="1.8"/><circle cx="505.7" cy="359.5" r="1.85" fill="#fff" stroke="#f58488" stroke-width="1.8"/><circle cx="446.48" cy="277.99" r="1.85" fill="#fff" stroke="#f58488" stroke-width="1.8"/><circle cx="350.67" cy="309.13" r="1.85" fill="#fff" stroke="#f58488" stroke-width="1.8"/><circle cx="350.67" cy="409.87" r="1.85" fill="#fff" stroke="#f58488" stroke-width="1.8"/><circle cx="446.48" cy="441.01" r="1.85" fill="#fff" stroke="#f58488" stroke-width="1.8"/><circle cx="428.7" cy="359.5" r="1.85" fill="#fff" stroke="#ead6ce" stroke-width="1.8"/><circle cx="422.69" cy="351.23" r="1.85" fill="#fff" stroke="#ead6ce" stroke-width="1.8"/><circle cx="412.96" cy="354.39" r="1.85" fill="#fff" stroke="#ead6ce" stroke-width="1.8"/><circle cx="412.96" cy="364.61" r="1.85" fill="#fff" stroke="#ead6ce" stroke-width="1.8"/><circle cx="422.69" cy="367.77" r="1.85" fill="#fff" stroke="#ead6ce" stroke-width="1.8"/><text x="454.2" y="257.1" font-size="9.0" fill="#111" stroke="#111" stroke-width="0.25" text-anchor="middle">SCORE</text><text x="518.6" y="362" font-size="9.0" fill="#111" stroke="#111" stroke-width="0.25" text-anchor="start">RMSE</text><text x="454.6" y="466.5" font-size="9.0" fill="#111" stroke="#111" stroke-width="0.25" text-anchor="middle">MAE</text><text x="330.7" y="426.7" font-size="9.0" fill="#111" stroke="#111" stroke-width="0.25" text-anchor="middle">VAF</text><text x="326.5" y="297" font-size="9" fill="#111" stroke="#111" stroke-width="0.25">R<tspan font-size="5.8" dy="-3.6" dx="-0.1">2</tspan></text><line x1="278" y1="309.3" x2="296.7" y2="309.3" stroke="#106cb2" stroke-width="1.1"/><circle cx="287.8" cy="309.3" r="2.5" fill="#106cb2"/><text x="303.4" y="312.5" font-size="9.6" fill="#111" stroke="#111" stroke-width="0.2">20</text><line x1="278" y1="319.08" x2="296.7" y2="319.08" stroke="#82c6de" stroke-width="1.1"/><circle cx="287.8" cy="319.08" r="2.5" fill="#82c6de"/><text x="303.4" y="322.28" font-size="9.6" fill="#111" stroke="#111" stroke-width="0.2">40</text><line x1="278" y1="328.86" x2="296.7" y2="328.86" stroke="#f7a884" stroke-width="1.1"/><circle cx="287.8" cy="328.86" r="2.5" fill="#f7a884"/><text x="303.4" y="332.06" font-size="9.6" fill="#111" stroke="#111" stroke-width="0.2">60</text><line x1="278" y1="338.64" x2="296.7" y2="338.64" stroke="#e6161e" stroke-width="1.1"/><circle cx="287.8" cy="338.64" r="2.5" fill="#e6161e"/><text x="303.4" y="341.84" font-size="9.6" fill="#111" stroke="#111" stroke-width="0.2">80</text><line x1="278" y1="348.42" x2="296.7" y2="348.42" stroke="#f58488" stroke-width="1.1"/><circle cx="287.8" cy="348.42" r="2.5" fill="#f58488"/><text x="303.4" y="351.62" font-size="9.6" fill="#111" stroke="#111" stroke-width="0.2">100</text><line x1="278" y1="358.2" x2="296.7" y2="358.2" stroke="#ead6ce" stroke-width="1.1"/><circle cx="287.8" cy="358.2" r="2.5" fill="#ead6ce"/><text x="303.4" y="361.4" font-size="9.6" fill="#111" stroke="#111" stroke-width="0.2">120</text><text x="377" y="485.6" font-size="13.9" fill="#1f80bd" stroke="#1f80bd" stroke-width="0.15">(4) SCSO-CatBoost</text></g>
<g><circle cx="155" cy="603" r="7.8" fill="none" stroke="#858585" stroke-width="0.95" stroke-dasharray="4.6,1.8"/><circle cx="155" cy="603" r="23.35" fill="none" stroke="#858585" stroke-width="0.95" stroke-dasharray="4.6,1.8"/><circle cx="155" cy="603" r="38.9" fill="none" stroke="#858585" stroke-width="0.95" stroke-dasharray="4.6,1.8"/><circle cx="155" cy="603" r="54.45" fill="none" stroke="#858585" stroke-width="0.95" stroke-dasharray="4.6,1.8"/><circle cx="155" cy="603" r="70" fill="none" stroke="#858585" stroke-width="0.95" stroke-dasharray="4.6,1.8"/><circle cx="155" cy="603" r="85.55" fill="none" stroke="#858585" stroke-width="0.95" stroke-dasharray="4.6,1.8"/><line x1="155" y1="603" x2="256.2" y2="603" stroke="#858585" stroke-width="0.95" stroke-dasharray="4.6,1.8"/><line x1="155" y1="603" x2="186.27" y2="506.75" stroke="#858585" stroke-width="0.95" stroke-dasharray="4.6,1.8"/><line x1="155" y1="603" x2="73.13" y2="543.52" stroke="#858585" stroke-width="0.95" stroke-dasharray="4.6,1.8"/><line x1="155" y1="603" x2="73.13" y2="662.48" stroke="#858585" stroke-width="0.95" stroke-dasharray="4.6,1.8"/><line x1="155" y1="603" x2="186.27" y2="699.25" stroke="#858585" stroke-width="0.95" stroke-dasharray="4.6,1.8"/><circle cx="155" cy="603" r="101.2" fill="none" stroke="#555" stroke-width="1.05"/><polygon points="191,603 163.78,575.99 124.01,580.49 116.57,630.92 160.72,620.59" fill="#6d9bb8" fill-opacity="0.35"/><polygon points="185,603 161.49,583.03 129.6,584.54 121.02,627.69 157.69,611.27" fill="#a1d4e2" fill-opacity="0.35"/><polygon points="215.6,603 173.02,547.55 102.98,565.21 98.37,644.14 172.55,657.02" fill="#fcc3ac" fill-opacity="0.35"/><polygon points="240.7,603 181.48,521.49 85.67,552.63 85.67,653.37 181.48,684.51" fill="#f14e5c" fill-opacity="0.35"/><polygon points="204.4,603 171.25,552.97 112.36,572.02 101.04,642.21 174.31,662.44" fill="#f9a99e" fill-opacity="0.35"/><polygon points="163.7,603 157.69,594.73 147.96,597.89 147.96,608.11 162.88,627.25" fill="#f7e6de" fill-opacity="0.12"/><circle cx="155" cy="603" r="7.8" fill="none" stroke="#5a4048" stroke-opacity="0.3" stroke-width="0.95" stroke-dasharray="4.6,1.8"/><circle cx="155" cy="603" r="23.35" fill="none" stroke="#5a4048" stroke-opacity="0.3" stroke-width="0.95" stroke-dasharray="4.6,1.8"/><circle cx="155" cy="603" r="38.9" fill="none" stroke="#5a4048" stroke-opacity="0.3" stroke-width="0.95" stroke-dasharray="4.6,1.8"/><circle cx="155" cy="603" r="54.45" fill="none" stroke="#5a4048" stroke-opacity="0.3" stroke-width="0.95" stroke-dasharray="4.6,1.8"/><circle cx="155" cy="603" r="70" fill="none" stroke="#5a4048" stroke-opacity="0.3" stroke-width="0.95" stroke-dasharray="4.6,1.8"/><circle cx="155" cy="603" r="85.55" fill="none" stroke="#5a4048" stroke-opacity="0.3" stroke-width="0.95" stroke-dasharray="4.6,1.8"/><line x1="155" y1="603" x2="256.2" y2="603" stroke="#5a4048" stroke-opacity="0.3" stroke-width="0.95" stroke-dasharray="4.6,1.8"/><line x1="155" y1="603" x2="186.27" y2="506.75" stroke="#5a4048" stroke-opacity="0.3" stroke-width="0.95" stroke-dasharray="4.6,1.8"/><line x1="155" y1="603" x2="73.13" y2="543.52" stroke="#5a4048" stroke-opacity="0.3" stroke-width="0.95" stroke-dasharray="4.6,1.8"/><line x1="155" y1="603" x2="73.13" y2="662.48" stroke="#5a4048" stroke-opacity="0.3" stroke-width="0.95" stroke-dasharray="4.6,1.8"/><line x1="155" y1="603" x2="186.27" y2="699.25" stroke="#5a4048" stroke-opacity="0.3" stroke-width="0.95" stroke-dasharray="4.6,1.8"/><polygon points="191,603 163.78,575.99 124.01,580.49 116.57,630.92 160.72,620.59" fill="none" stroke="#106cb2" stroke-width="1.3" stroke-opacity="1" stroke-linejoin="miter"/><polygon points="185,603 161.49,583.03 129.6,584.54 121.02,627.69 157.69,611.27" fill="none" stroke="#82c6de" stroke-width="1.1" stroke-opacity="0.8" stroke-linejoin="miter"/><polygon points="215.6,603 173.02,547.55 102.98,565.21 98.37,644.14 172.55,657.02" fill="none" stroke="#f7a884" stroke-width="1.0" stroke-opacity="0.6" stroke-linejoin="miter"/><polygon points="240.7,603 181.48,521.49 85.67,552.63 85.67,653.37 181.48,684.51" fill="none" stroke="#e6161e" stroke-width="1.3" stroke-opacity="1" stroke-linejoin="miter"/><polygon points="204.4,603 171.25,552.97 112.36,572.02 101.04,642.21 174.31,662.44" fill="none" stroke="#f58488" stroke-width="1.2" stroke-opacity="0.9" stroke-linejoin="miter"/><polygon points="163.7,603 157.69,594.73 147.96,597.89 147.96,608.11 162.88,627.25" fill="none" stroke="#ead6ce" stroke-width="1.1" stroke-opacity="0.8" stroke-linejoin="miter"/><circle cx="191" cy="603" r="1.85" fill="#fff" stroke="#106cb2" stroke-width="1.8"/><circle cx="163.78" cy="575.99" r="1.85" fill="#fff" stroke="#106cb2" stroke-width="1.8"/><circle cx="124.01" cy="580.49" r="1.85" fill="#fff" stroke="#106cb2" stroke-width="1.8"/><circle cx="116.57" cy="630.92" r="1.85" fill="#fff" stroke="#106cb2" stroke-width="1.8"/><circle cx="160.72" cy="620.59" r="1.85" fill="#fff" stroke="#106cb2" stroke-width="1.8"/><circle cx="185" cy="603" r="1.85" fill="#fff" stroke="#82c6de" stroke-width="1.8"/><circle cx="161.49" cy="583.03" r="1.85" fill="#fff" stroke="#82c6de" stroke-width="1.8"/><circle cx="129.6" cy="584.54" r="1.85" fill="#fff" stroke="#82c6de" stroke-width="1.8"/><circle cx="121.02" cy="627.69" r="1.85" fill="#fff" stroke="#82c6de" stroke-width="1.8"/><circle cx="157.69" cy="611.27" r="1.85" fill="#fff" stroke="#82c6de" stroke-width="1.8"/><circle cx="215.6" cy="603" r="1.85" fill="#fff" stroke="#f7a884" stroke-width="1.8"/><circle cx="173.02" cy="547.55" r="1.85" fill="#fff" stroke="#f7a884" stroke-width="1.8"/><circle cx="102.98" cy="565.21" r="1.85" fill="#fff" stroke="#f7a884" stroke-width="1.8"/><circle cx="98.37" cy="644.14" r="1.85" fill="#fff" stroke="#f7a884" stroke-width="1.8"/><circle cx="172.55" cy="657.02" r="1.85" fill="#fff" stroke="#f7a884" stroke-width="1.8"/><circle cx="240.7" cy="603" r="1.85" fill="#fff" stroke="#e6161e" stroke-width="1.8"/><circle cx="181.48" cy="521.49" r="1.85" fill="#fff" stroke="#e6161e" stroke-width="1.8"/><circle cx="85.67" cy="552.63" r="1.85" fill="#fff" stroke="#e6161e" stroke-width="1.8"/><circle cx="85.67" cy="653.37" r="1.85" fill="#fff" stroke="#e6161e" stroke-width="1.8"/><circle cx="181.48" cy="684.51" r="1.85" fill="#fff" stroke="#e6161e" stroke-width="1.8"/><circle cx="204.4" cy="603" r="1.85" fill="#fff" stroke="#f58488" stroke-width="1.8"/><circle cx="171.25" cy="552.97" r="1.85" fill="#fff" stroke="#f58488" stroke-width="1.8"/><circle cx="112.36" cy="572.02" r="1.85" fill="#fff" stroke="#f58488" stroke-width="1.8"/><circle cx="101.04" cy="642.21" r="1.85" fill="#fff" stroke="#f58488" stroke-width="1.8"/><circle cx="174.31" cy="662.44" r="1.85" fill="#fff" stroke="#f58488" stroke-width="1.8"/><circle cx="163.7" cy="603" r="1.85" fill="#fff" stroke="#ead6ce" stroke-width="1.8"/><circle cx="157.69" cy="594.73" r="1.85" fill="#fff" stroke="#ead6ce" stroke-width="1.8"/><circle cx="147.96" cy="597.89" r="1.85" fill="#fff" stroke="#ead6ce" stroke-width="1.8"/><circle cx="147.96" cy="608.11" r="1.85" fill="#fff" stroke="#ead6ce" stroke-width="1.8"/><circle cx="162.88" cy="627.25" r="1.85" fill="#fff" stroke="#ead6ce" stroke-width="1.8"/><text x="189.2" y="500.6" font-size="9.0" fill="#111" stroke="#111" stroke-width="0.25" text-anchor="middle">SCORE</text><text x="253.6" y="605.5" font-size="9.0" fill="#111" stroke="#111" stroke-width="0.25" text-anchor="start">RMSE</text><text x="189.6" y="710" font-size="9.0" fill="#111" stroke="#111" stroke-width="0.25" text-anchor="middle">MAE</text><text x="65.7" y="670.2" font-size="9.0" fill="#111" stroke="#111" stroke-width="0.25" text-anchor="middle">VAF</text><text x="61.5" y="540.5" font-size="9" fill="#111" stroke="#111" stroke-width="0.25">R<tspan font-size="5.8" dy="-3.6" dx="-0.1">2</tspan></text><line x1="13" y1="552.8" x2="31.7" y2="552.8" stroke="#106cb2" stroke-width="1.1"/><circle cx="22.8" cy="552.8" r="2.5" fill="#106cb2"/><text x="38.4" y="556" font-size="9.6" fill="#111" stroke="#111" stroke-width="0.2">20</text><line x1="13" y1="562.58" x2="31.7" y2="562.58" stroke="#82c6de" stroke-width="1.1"/><circle cx="22.8" cy="562.58" r="2.5" fill="#82c6de"/><text x="38.4" y="565.78" font-size="9.6" fill="#111" stroke="#111" stroke-width="0.2">40</text><line x1="13" y1="572.36" x2="31.7" y2="572.36" stroke="#f7a884" stroke-width="1.1"/><circle cx="22.8" cy="572.36" r="2.5" fill="#f7a884"/><text x="38.4" y="575.56" font-size="9.6" fill="#111" stroke="#111" stroke-width="0.2">60</text><line x1="13" y1="582.14" x2="31.7" y2="582.14" stroke="#e6161e" stroke-width="1.1"/><circle cx="22.8" cy="582.14" r="2.5" fill="#e6161e"/><text x="38.4" y="585.34" font-size="9.6" fill="#111" stroke="#111" stroke-width="0.2">80</text><line x1="13" y1="591.92" x2="31.7" y2="591.92" stroke="#f58488" stroke-width="1.1"/><circle cx="22.8" cy="591.92" r="2.5" fill="#f58488"/><text x="38.4" y="595.12" font-size="9.6" fill="#111" stroke="#111" stroke-width="0.2">100</text><line x1="13" y1="601.7" x2="31.7" y2="601.7" stroke="#ead6ce" stroke-width="1.1"/><circle cx="22.8" cy="601.7" r="2.5" fill="#ead6ce"/><text x="38.4" y="604.9" font-size="9.6" fill="#111" stroke="#111" stroke-width="0.2">120</text><text x="111.6" y="729.4" font-size="13.9" fill="#1f80bd" stroke="#1f80bd" stroke-width="0.15">(5) SSA-CatBoost</text></g>
<g><circle cx="420" cy="603" r="7.8" fill="none" stroke="#858585" stroke-width="0.95" stroke-dasharray="4.6,1.8"/><circle cx="420" cy="603" r="23.35" fill="none" stroke="#858585" stroke-width="0.95" stroke-dasharray="4.6,1.8"/><circle cx="420" cy="603" r="38.9" fill="none" stroke="#858585" stroke-width="0.95" stroke-dasharray="4.6,1.8"/><circle cx="420" cy="603" r="54.45" fill="none" stroke="#858585" stroke-width="0.95" stroke-dasharray="4.6,1.8"/><circle cx="420" cy="603" r="70" fill="none" stroke="#858585" stroke-width="0.95" stroke-dasharray="4.6,1.8"/><circle cx="420" cy="603" r="85.55" fill="none" stroke="#858585" stroke-width="0.95" stroke-dasharray="4.6,1.8"/><line x1="420" y1="603" x2="521.2" y2="603" stroke="#858585" stroke-width="0.95" stroke-dasharray="4.6,1.8"/><line x1="420" y1="603" x2="451.27" y2="506.75" stroke="#858585" stroke-width="0.95" stroke-dasharray="4.6,1.8"/><line x1="420" y1="603" x2="338.13" y2="543.52" stroke="#858585" stroke-width="0.95" stroke-dasharray="4.6,1.8"/><line x1="420" y1="603" x2="338.13" y2="662.48" stroke="#858585" stroke-width="0.95" stroke-dasharray="4.6,1.8"/><line x1="420" y1="603" x2="451.27" y2="699.25" stroke="#858585" stroke-width="0.95" stroke-dasharray="4.6,1.8"/><circle cx="420" cy="603" r="101.2" fill="none" stroke="#555" stroke-width="1.05"/><polygon points="439.6,603 431.43,567.81 403.01,590.66 395,621.16 429.09,630.96" fill="#6d9bb8" fill-opacity="0.35"/><polygon points="505.7,603 434.31,558.97 350.67,552.63 350.67,653.37 445.96,682.89" fill="#a1d4e2" fill-opacity="0.35"/><polygon points="458,603 432.45,564.67 387.96,579.72 382.62,630.16 435.14,649.6" fill="#fcc3ac" fill-opacity="0.35"/><polygon points="473.6,603 435.54,555.16 375.58,570.73 376.64,634.51 446.48,684.51" fill="#f14e5c" fill-opacity="0.35"/><polygon points="495,603 446.48,521.49 358.03,557.98 353.01,651.67 437.86,657.97" fill="#f9a99e" fill-opacity="0.35"/><polygon points="428.7,603 422.69,594.73 412.96,597.89 412.96,608.11 422.69,611.27" fill="#f7e6de" fill-opacity="0.12"/><circle cx="420" cy="603" r="7.8" fill="none" stroke="#5a4048" stroke-opacity="0.3" stroke-width="0.95" stroke-dasharray="4.6,1.8"/><circle cx="420" cy="603" r="23.35" fill="none" stroke="#5a4048" stroke-opacity="0.3" stroke-width="0.95" stroke-dasharray="4.6,1.8"/><circle cx="420" cy="603" r="38.9" fill="none" stroke="#5a4048" stroke-opacity="0.3" stroke-width="0.95" stroke-dasharray="4.6,1.8"/><circle cx="420" cy="603" r="54.45" fill="none" stroke="#5a4048" stroke-opacity="0.3" stroke-width="0.95" stroke-dasharray="4.6,1.8"/><circle cx="420" cy="603" r="70" fill="none" stroke="#5a4048" stroke-opacity="0.3" stroke-width="0.95" stroke-dasharray="4.6,1.8"/><circle cx="420" cy="603" r="85.55" fill="none" stroke="#5a4048" stroke-opacity="0.3" stroke-width="0.95" stroke-dasharray="4.6,1.8"/><line x1="420" y1="603" x2="521.2" y2="603" stroke="#5a4048" stroke-opacity="0.3" stroke-width="0.95" stroke-dasharray="4.6,1.8"/><line x1="420" y1="603" x2="451.27" y2="506.75" stroke="#5a4048" stroke-opacity="0.3" stroke-width="0.95" stroke-dasharray="4.6,1.8"/><line x1="420" y1="603" x2="338.13" y2="543.52" stroke="#5a4048" stroke-opacity="0.3" stroke-width="0.95" stroke-dasharray="4.6,1.8"/><line x1="420" y1="603" x2="338.13" y2="662.48" stroke="#5a4048" stroke-opacity="0.3" stroke-width="0.95" stroke-dasharray="4.6,1.8"/><line x1="420" y1="603" x2="451.27" y2="699.25" stroke="#5a4048" stroke-opacity="0.3" stroke-width="0.95" stroke-dasharray="4.6,1.8"/><polygon points="439.6,603 431.43,567.81 403.01,590.66 395,621.16 429.09,630.96" fill="none" stroke="#106cb2" stroke-width="1.3" stroke-opacity="1" stroke-linejoin="miter"/><polygon points="505.7,603 434.31,558.97 350.67,552.63 350.67,653.37 445.96,682.89" fill="none" stroke="#82c6de" stroke-width="1.1" stroke-opacity="0.8" stroke-linejoin="miter"/><polygon points="458,603 432.45,564.67 387.96,579.72 382.62,630.16 435.14,649.6" fill="none" stroke="#f7a884" stroke-width="1.0" stroke-opacity="0.6" stroke-linejoin="miter"/><polygon points="473.6,603 435.54,555.16 375.58,570.73 376.64,634.51 446.48,684.51" fill="none" stroke="#e6161e" stroke-width="1.3" stroke-opacity="1" stroke-linejoin="miter"/><polygon points="495,603 446.48,521.49 358.03,557.98 353.01,651.67 437.86,657.97" fill="none" stroke="#f58488" stroke-width="1.2" stroke-opacity="0.9" stroke-linejoin="miter"/><polygon points="428.7,603 422.69,594.73 412.96,597.89 412.96,608.11 422.69,611.27" fill="none" stroke="#ead6ce" stroke-width="1.1" stroke-opacity="0.8" stroke-linejoin="miter"/><circle cx="439.6" cy="603" r="1.85" fill="#fff" stroke="#106cb2" stroke-width="1.8"/><circle cx="431.43" cy="567.81" r="1.85" fill="#fff" stroke="#106cb2" stroke-width="1.8"/><circle cx="403.01" cy="590.66" r="1.85" fill="#fff" stroke="#106cb2" stroke-width="1.8"/><circle cx="395" cy="621.16" r="1.85" fill="#fff" stroke="#106cb2" stroke-width="1.8"/><circle cx="429.09" cy="630.96" r="1.85" fill="#fff" stroke="#106cb2" stroke-width="1.8"/><circle cx="505.7" cy="603" r="1.85" fill="#fff" stroke="#82c6de" stroke-width="1.8"/><circle cx="434.31" cy="558.97" r="1.85" fill="#fff" stroke="#82c6de" stroke-width="1.8"/><circle cx="350.67" cy="552.63" r="1.85" fill="#fff" stroke="#82c6de" stroke-width="1.8"/><circle cx="350.67" cy="653.37" r="1.85" fill="#fff" stroke="#82c6de" stroke-width="1.8"/><circle cx="445.96" cy="682.89" r="1.85" fill="#fff" stroke="#82c6de" stroke-width="1.8"/><circle cx="458" cy="603" r="1.85" fill="#fff" stroke="#f7a884" stroke-width="1.8"/><circle cx="432.45" cy="564.67" r="1.85" fill="#fff" stroke="#f7a884" stroke-width="1.8"/><circle cx="387.96" cy="579.72" r="1.85" fill="#fff" stroke="#f7a884" stroke-width="1.8"/><circle cx="382.62" cy="630.16" r="1.85" fill="#fff" stroke="#f7a884" stroke-width="1.8"/><circle cx="435.14" cy="649.6" r="1.85" fill="#fff" stroke="#f7a884" stroke-width="1.8"/><circle cx="473.6" cy="603" r="1.85" fill="#fff" stroke="#e6161e" stroke-width="1.8"/><circle cx="435.54" cy="555.16" r="1.85" fill="#fff" stroke="#e6161e" stroke-width="1.8"/><circle cx="375.58" cy="570.73" r="1.85" fill="#fff" stroke="#e6161e" stroke-width="1.8"/><circle cx="376.64" cy="634.51" r="1.85" fill="#fff" stroke="#e6161e" stroke-width="1.8"/><circle cx="446.48" cy="684.51" r="1.85" fill="#fff" stroke="#e6161e" stroke-width="1.8"/><circle cx="495" cy="603" r="1.85" fill="#fff" stroke="#f58488" stroke-width="1.8"/><circle cx="446.48" cy="521.49" r="1.85" fill="#fff" stroke="#f58488" stroke-width="1.8"/><circle cx="358.03" cy="557.98" r="1.85" fill="#fff" stroke="#f58488" stroke-width="1.8"/><circle cx="353.01" cy="651.67" r="1.85" fill="#fff" stroke="#f58488" stroke-width="1.8"/><circle cx="437.86" cy="657.97" r="1.85" fill="#fff" stroke="#f58488" stroke-width="1.8"/><circle cx="428.7" cy="603" r="1.85" fill="#fff" stroke="#ead6ce" stroke-width="1.8"/><circle cx="422.69" cy="594.73" r="1.85" fill="#fff" stroke="#ead6ce" stroke-width="1.8"/><circle cx="412.96" cy="597.89" r="1.85" fill="#fff" stroke="#ead6ce" stroke-width="1.8"/><circle cx="412.96" cy="608.11" r="1.85" fill="#fff" stroke="#ead6ce" stroke-width="1.8"/><circle cx="422.69" cy="611.27" r="1.85" fill="#fff" stroke="#ead6ce" stroke-width="1.8"/><text x="454.2" y="500.6" font-size="9.0" fill="#111" stroke="#111" stroke-width="0.25" text-anchor="middle">SCORE</text><text x="518.6" y="605.5" font-size="9.0" fill="#111" stroke="#111" stroke-width="0.25" text-anchor="start">RMSE</text><text x="454.6" y="710" font-size="9.0" fill="#111" stroke="#111" stroke-width="0.25" text-anchor="middle">MAE</text><text x="330.7" y="670.2" font-size="9.0" fill="#111" stroke="#111" stroke-width="0.25" text-anchor="middle">VAF</text><text x="326.5" y="540.5" font-size="9" fill="#111" stroke="#111" stroke-width="0.25">R<tspan font-size="5.8" dy="-3.6" dx="-0.1">2</tspan></text><line x1="278" y1="552.8" x2="296.7" y2="552.8" stroke="#106cb2" stroke-width="1.1"/><circle cx="287.8" cy="552.8" r="2.5" fill="#106cb2"/><text x="303.4" y="556" font-size="9.6" fill="#111" stroke="#111" stroke-width="0.2">20</text><line x1="278" y1="562.58" x2="296.7" y2="562.58" stroke="#82c6de" stroke-width="1.1"/><circle cx="287.8" cy="562.58" r="2.5" fill="#82c6de"/><text x="303.4" y="565.78" font-size="9.6" fill="#111" stroke="#111" stroke-width="0.2">40</text><line x1="278" y1="572.36" x2="296.7" y2="572.36" stroke="#f7a884" stroke-width="1.1"/><circle cx="287.8" cy="572.36" r="2.5" fill="#f7a884"/><text x="303.4" y="575.56" font-size="9.6" fill="#111" stroke="#111" stroke-width="0.2">60</text><line x1="278" y1="582.14" x2="296.7" y2="582.14" stroke="#e6161e" stroke-width="1.1"/><circle cx="287.8" cy="582.14" r="2.5" fill="#e6161e"/><text x="303.4" y="585.34" font-size="9.6" fill="#111" stroke="#111" stroke-width="0.2">80</text><line x1="278" y1="591.92" x2="296.7" y2="591.92" stroke="#f58488" stroke-width="1.1"/><circle cx="287.8" cy="591.92" r="2.5" fill="#f58488"/><text x="303.4" y="595.12" font-size="9.6" fill="#111" stroke="#111" stroke-width="0.2">100</text><line x1="278" y1="601.7" x2="296.7" y2="601.7" stroke="#ead6ce" stroke-width="1.1"/><circle cx="287.8" cy="601.7" r="2.5" fill="#ead6ce"/><text x="303.4" y="604.9" font-size="9.6" fill="#111" stroke="#111" stroke-width="0.2">120</text><text x="376.5" y="729.5" font-size="13.9" fill="#1f80bd" stroke="#1f80bd" stroke-width="0.15">(6) WaOA-CatBoost</text></g>
</svg></body></html>
